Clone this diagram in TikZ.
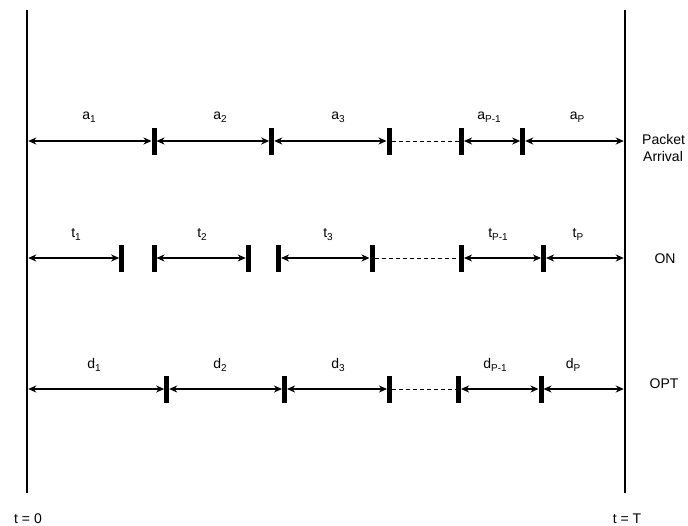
\documentclass[tikz,border=0pt]{standalone}
\usepackage{fontspec}
\setmainfont{Liberation Sans}
\usetikzlibrary{arrows.meta}
\newcommand{\mysub}[1]{\raisebox{-3.5pt}{\fontsize{10}{12}\selectfont #1}}
\begin{document}
\begin{tikzpicture}[x=1pt,y=-1pt,
  bar/.style={draw=none,fill=black,minimum width=5pt,minimum height=27pt,inner sep=0pt,outer sep=0pt},
  span/.style={{Stealth[length=8pt,width=7pt,inset=2.5pt]}-{Stealth[length=8pt,width=7pt,inset=2.5pt]},line width=1.2pt},
  gap/.style={line width=1pt,dash pattern=on 4pt off 3pt},
  axis/.style={line width=2.5pt},
  lab/.style={font=\fontsize{14}{16}\selectfont,inner sep=0pt,anchor=base}
]
\useasboundingbox (0,0) rectangle (688,525);
% main vertical lines
\coordinate (L0) at (27,10);
\coordinate (L1) at (27,493);
\coordinate (R0) at (625,10);
\coordinate (R1) at (625,493);
\draw[axis] (L0) -- (L1);
\draw[axis] (R0) -- (R1);
% row coordinates on the lines
\coordinate (LA) at (28.25,141);
\coordinate (RA) at (623.75,141);
\coordinate (LT) at (28.25,258);
\coordinate (RT) at (623.75,258);
\coordinate (LD) at (28.25,389);
\coordinate (RD) at (623.75,389);

% ---- Row A: packet arrival
\node[bar] (a1) at (154,141) {};
\node[bar] (a2) at (271.7,141) {};
\node[bar] (a3) at (389,141) {};
\node[bar] (a4) at (461.5,141) {};
\node[bar] (a5) at (522.7,141) {};
\draw[span] (LA) -- (a1.west);
\draw[span] (a1.east) -- (a2.west);
\draw[span] (a2.east) -- (a3.west);
\draw[gap] (a3.east) -- (a4.west);
\draw[span] (a4.east) -- (a5.west);
\draw[span] (a5.east) -- (RA);
\node[lab] (la1) at (89,119) {a\mysub{1}};
\node[lab] (la2) at (220,119) {a\mysub{2}};
\node[lab] (la3) at (338,119) {a\mysub{3}};
\node[lab] (la4) at (489,119) {a\mysub{P-1}};
\node[lab] (la5) at (577,119) {a\mysub{P}};

% ---- Row T: ON
\node[bar] (t1) at (121.7,258) {};
\node[bar] (t2) at (154,258) {};
\node[bar] (t3) at (248.3,258) {};
\node[bar] (t4) at (278.5,258) {};
\node[bar] (t5) at (372,258) {};
\node[bar] (t6) at (461.5,258) {};
\node[bar] (t7) at (543.5,258) {};
\draw[span] (LT) -- (t1.west);
\draw[span] (t2.east) -- (t3.west);
\draw[span] (t4.east) -- (t5.west);
\draw[gap] (t5.east) -- (t6.west);
\draw[span] (t6.east) -- (t7.west);
\draw[span] (t7.east) -- (RT);
\node[lab] (lt1) at (76,237) {t\mysub{1}};
\node[lab] (lt2) at (202,237) {t\mysub{2}};
\node[lab] (lt3) at (328,237) {t\mysub{3}};
\node[lab] (lt4) at (498,237) {t\mysub{P-1}};
\node[lab] (lt5) at (578,237) {t\mysub{P}};

% ---- Row D: OPT
\node[bar] (d1) at (166.7,389) {};
\node[bar] (d2) at (284.5,389) {};
\node[bar] (d3) at (389.5,389) {};
\node[bar] (d4) at (458.5,389) {};
\node[bar] (d5) at (541,389) {};
\draw[span] (LD) -- (d1.west);
\draw[span] (d1.east) -- (d2.west);
\draw[span] (d2.east) -- (d3.west);
\draw[gap] (d3.east) -- (d4.west);
\draw[span] (d4.east) -- (d5.west);
\draw[span] (d5.east) -- (RD);
\node[lab] (ld1) at (94,368) {d\mysub{1}};
\node[lab] (ld2) at (220,368) {d\mysub{2}};
\node[lab] (ld3) at (338,368) {d\mysub{3}};
\node[lab] (ld4) at (495,368) {d\mysub{P-1}};
\node[lab] (ld5) at (573,368) {d\mysub{P}};

% ---- right labels
\node[lab,anchor=base west] (pk) at (642,144) {Packet};
\node[lab,anchor=base west] (ar) at (643,161) {Arrival};
\node[lab] (on) at (665,263) {ON};
\node[lab] (opt) at (664,388) {OPT};
% ---- bottom labels
\node[lab] (t0) at (28,523) {t = 0};
\node[lab] (tT) at (627,523) {t = T};
\end{tikzpicture}
\end{document}
